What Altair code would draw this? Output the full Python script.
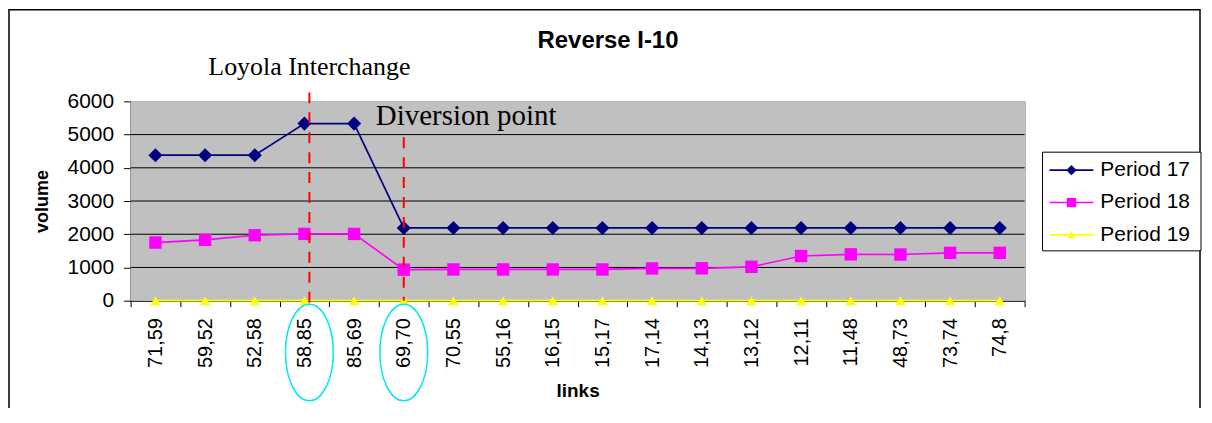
import altair as alt
import pandas as pd

# ---------------- data ----------------
links = ["71,59", "59,52", "52,58", "58,85", "85,69", "69,70", "70,55", "55,16", "16,15",
         "15,17", "17,14", "14,13", "13,12", "12,11", "11,48", "48,73", "73,74", "74,8"]
series_names = ["Period 17", "Period 18", "Period 19"]
period17 = [4380, 4380, 4380, 5330, 5330, 2190, 2190, 2190, 2190,
            2190, 2190, 2190, 2190, 2190, 2190, 2190, 2190, 2190]
period18 = [1750, 1830, 1970, 2010, 2010, 935, 940, 940, 940,
            940, 970, 975, 1020, 1345, 1395, 1390, 1440, 1440]
period19 = [0, 0, 0, 0, 0, 0, 0, 0, 0,
            0, 0, 0, 0, 0, 0, 0, 0, 0]
y_ticks = [0, 1000, 2000, 3000, 4000, 5000, 6000]
chart_title = "Reverse I-10"
x_title = "links"
y_title = "volume"
loyola_link = "58,85"
loyola_label = "Loyola Interchange"
diversion_link = "69,70"
diversion_label = "Diversion point"

# ---------------- styles ----------------
series_colors = ["#000080", "#FF00FF", "#FFFF00"]
marker_shapes = ["diamond", "square", "triangle-up"]
marker_sizes = [200, 110, 280]
legend_marker_sizes = [110, 64, 170]
line_widths = [1.7, 1.7, 2.8]
ellipse_path = ("M0,-1C0.273,-1 0.495,-0.552 0.495,0C0.495,0.552 0.273,1 0,1"
                "C-0.273,1 -0.495,0.552 -0.495,0C-0.495,-0.552 -0.273,-1 0,-1Z")
SANS = "Liberation Sans"
SERIF = "Liberation Serif"
W, H = 897, 200

df = pd.DataFrame({
    "link": links * 3,
    "series": [series_names[0]] * len(links) + [series_names[1]] * len(links) + [series_names[2]] * len(links),
    "volume": period17 + period18 + period19,
})
grid_df = pd.DataFrame({"volume": y_ticks[1:-1]})
legend_df = pd.DataFrame({"series": series_names})

x_scale = alt.Scale(type="band", domain=links, paddingInner=0, paddingOuter=0)
y_scale = alt.Scale(domain=[0, 6000], nice=False)
color_scale = alt.Scale(domain=series_names, range=series_colors)
shape_scale = alt.Scale(domain=series_names, range=marker_shapes)
width_scale = alt.Scale(domain=series_names, range=line_widths)

x_axis = alt.Axis(title=x_title, labelAngle=-90, labelFont=SANS, labelFontSize=20, labelColor="black",
                  labelPadding=11, tickSize=6, tickColor="black", tickBand="extent",
                  domainColor="black", grid=False, titleFont=SANS, titleFontSize=19,
                  titleFontWeight="bold", titleColor="black", titlePadding=14)
y_axis = alt.Axis(title=y_title, values=y_ticks, format="d", labelFont=SANS, labelFontSize=21,
                  labelColor="black", labelPadding=10, tickSize=7, tickColor="black",
                  domainColor="black", grid=False,
                  titleFont=SANS, titleFontSize=18, titleFontWeight="bold", titleColor="black",
                  titlePadding=16)


def xenc(bp=0.5):
    return alt.X("link:N", scale=x_scale, axis=x_axis, bandPosition=bp)


yenc = alt.Y("volume:Q", scale=y_scale, axis=y_axis)

one = pd.DataFrame({"k": [0]})

plot_bg = alt.Chart(one).mark_rect(color="#C0C0C0").encode(
    x=alt.value(0), x2=alt.value(W), y=alt.value(0), y2=alt.value(H))

grid = alt.Chart(grid_df).mark_rule(color="black", strokeWidth=1).encode(y=yenc)

border = alt.Chart(one).mark_rect(fill="transparent", stroke="black", strokeWidth=1.5).encode(
    x=alt.value(-122), x2=alt.value(1073), y=alt.value(-92), y2=alt.value(330))

lines = alt.Chart(df).mark_line().encode(
    x=xenc(), y=yenc,
    color=alt.Color("series:N", scale=color_scale, legend=None),
    strokeWidth=alt.StrokeWidth("series:N", scale=width_scale, legend=None),
    detail="series:N",
)

points = alt.Chart(df).mark_point(filled=True, opacity=1).encode(
    x=xenc(), y=yenc,
    color=alt.Color("series:N", scale=color_scale, legend=None),
    shape=alt.Shape("series:N", scale=shape_scale, legend=None),
    size=alt.Size("series:N", scale=alt.Scale(domain=series_names, range=marker_sizes), legend=None),
)

loy = pd.DataFrame({"link": [loyola_link], "label": [loyola_label]})
div = pd.DataFrame({"link": [diversion_link], "label": [diversion_label]})

rule_loy = alt.Chart(loy).mark_rule(color="#FF0000", strokeWidth=2, strokeDash=[11, 9]).encode(
    x=xenc(0.6), y=alt.value(-9), y2=alt.value(204))
rule_div = alt.Chart(div).mark_rule(color="#FF0000", strokeWidth=2, strokeDash=[11, 9]).encode(
    x=xenc(0.5), y=alt.value(36), y2=alt.value(200))

text_loy = alt.Chart(loy).mark_text(font=SERIF, fontSize=26, align="center", baseline="alphabetic",
                                    color="black").encode(
    x=xenc(0.6), y=alt.value(-26), text="label:N")
text_div = alt.Chart(div).mark_text(font=SERIF, fontSize=29, align="left", baseline="alphabetic",
                                    dx=-28, color="black").encode(
    x=xenc(0.5), y=alt.value(24), text="label:N")

ell_loy = alt.Chart(loy).mark_point(shape=ellipse_path, size=9409, filled=False, stroke="#00E8F4",
                                    strokeWidth=1.5, opacity=1).encode(
    x=xenc(0.6), y=alt.value(252))
ell_div = alt.Chart(div).mark_point(shape=ellipse_path, size=9409, filled=False, stroke="#00E8F4",
                                    strokeWidth=1.5, opacity=1).encode(
    x=xenc(0.5), y=alt.value(252))

title_df = pd.DataFrame({"t": [chart_title]})
title_mark = alt.Chart(title_df).mark_text(font=SANS, fontSize=24, fontWeight="bold", align="center",
                                           baseline="alphabetic", color="black").encode(
    x=alt.value(479), y=alt.value(-54), text="t:N")

data_group = alt.layer(plot_bg, grid, lines, points, rule_loy, rule_div, text_loy, text_div,
                       ell_loy, ell_div, title_mark, border)

# ---------------- legend (drawn from the series list) ----------------
leg_y = alt.Y("series:N", scale=alt.Scale(type="point", padding=0, domain=series_names, range=[69, 134]),
              axis=None)
leg_box = alt.Chart(one).mark_rect(fill="white", stroke="black", strokeWidth=1).encode(
    x=alt.value(915), x2=alt.value(1074), y=alt.value(51), y2=alt.value(150))
leg_line = alt.Chart(legend_df).mark_rule().encode(
    x=alt.value(922), x2=alt.value(966), y=leg_y,
    color=alt.Color("series:N", scale=color_scale, legend=None),
    strokeWidth=alt.StrokeWidth("series:N", scale=width_scale, legend=None))
leg_pt = alt.Chart(legend_df).mark_point(filled=True, opacity=1).encode(
    x=alt.value(944), y=leg_y,
    color=alt.Color("series:N", scale=color_scale, legend=None),
    shape=alt.Shape("series:N", scale=shape_scale, legend=None),
    size=alt.Size("series:N", scale=alt.Scale(domain=series_names, range=legend_marker_sizes), legend=None))
leg_txt = alt.Chart(legend_df).mark_text(font=SANS, fontSize=21, align="left", baseline="middle",
                                         color="black").encode(
    x=alt.value(973), y=leg_y, text="series:N")
legend_group = alt.layer(leg_box, leg_line, leg_pt, leg_txt)

chart = alt.layer(data_group, legend_group).resolve_scale(y="independent", size="independent").properties(
    width=W, height=H,
    autosize=alt.AutoSizeParams(type="none"),
    padding={"left": 123, "top": 93, "right": 180, "bottom": 107},
).configure_view(stroke="#808080", strokeWidth=1)

chart.save("out.html", embed_options={"renderer": "svg", "actions": False})
